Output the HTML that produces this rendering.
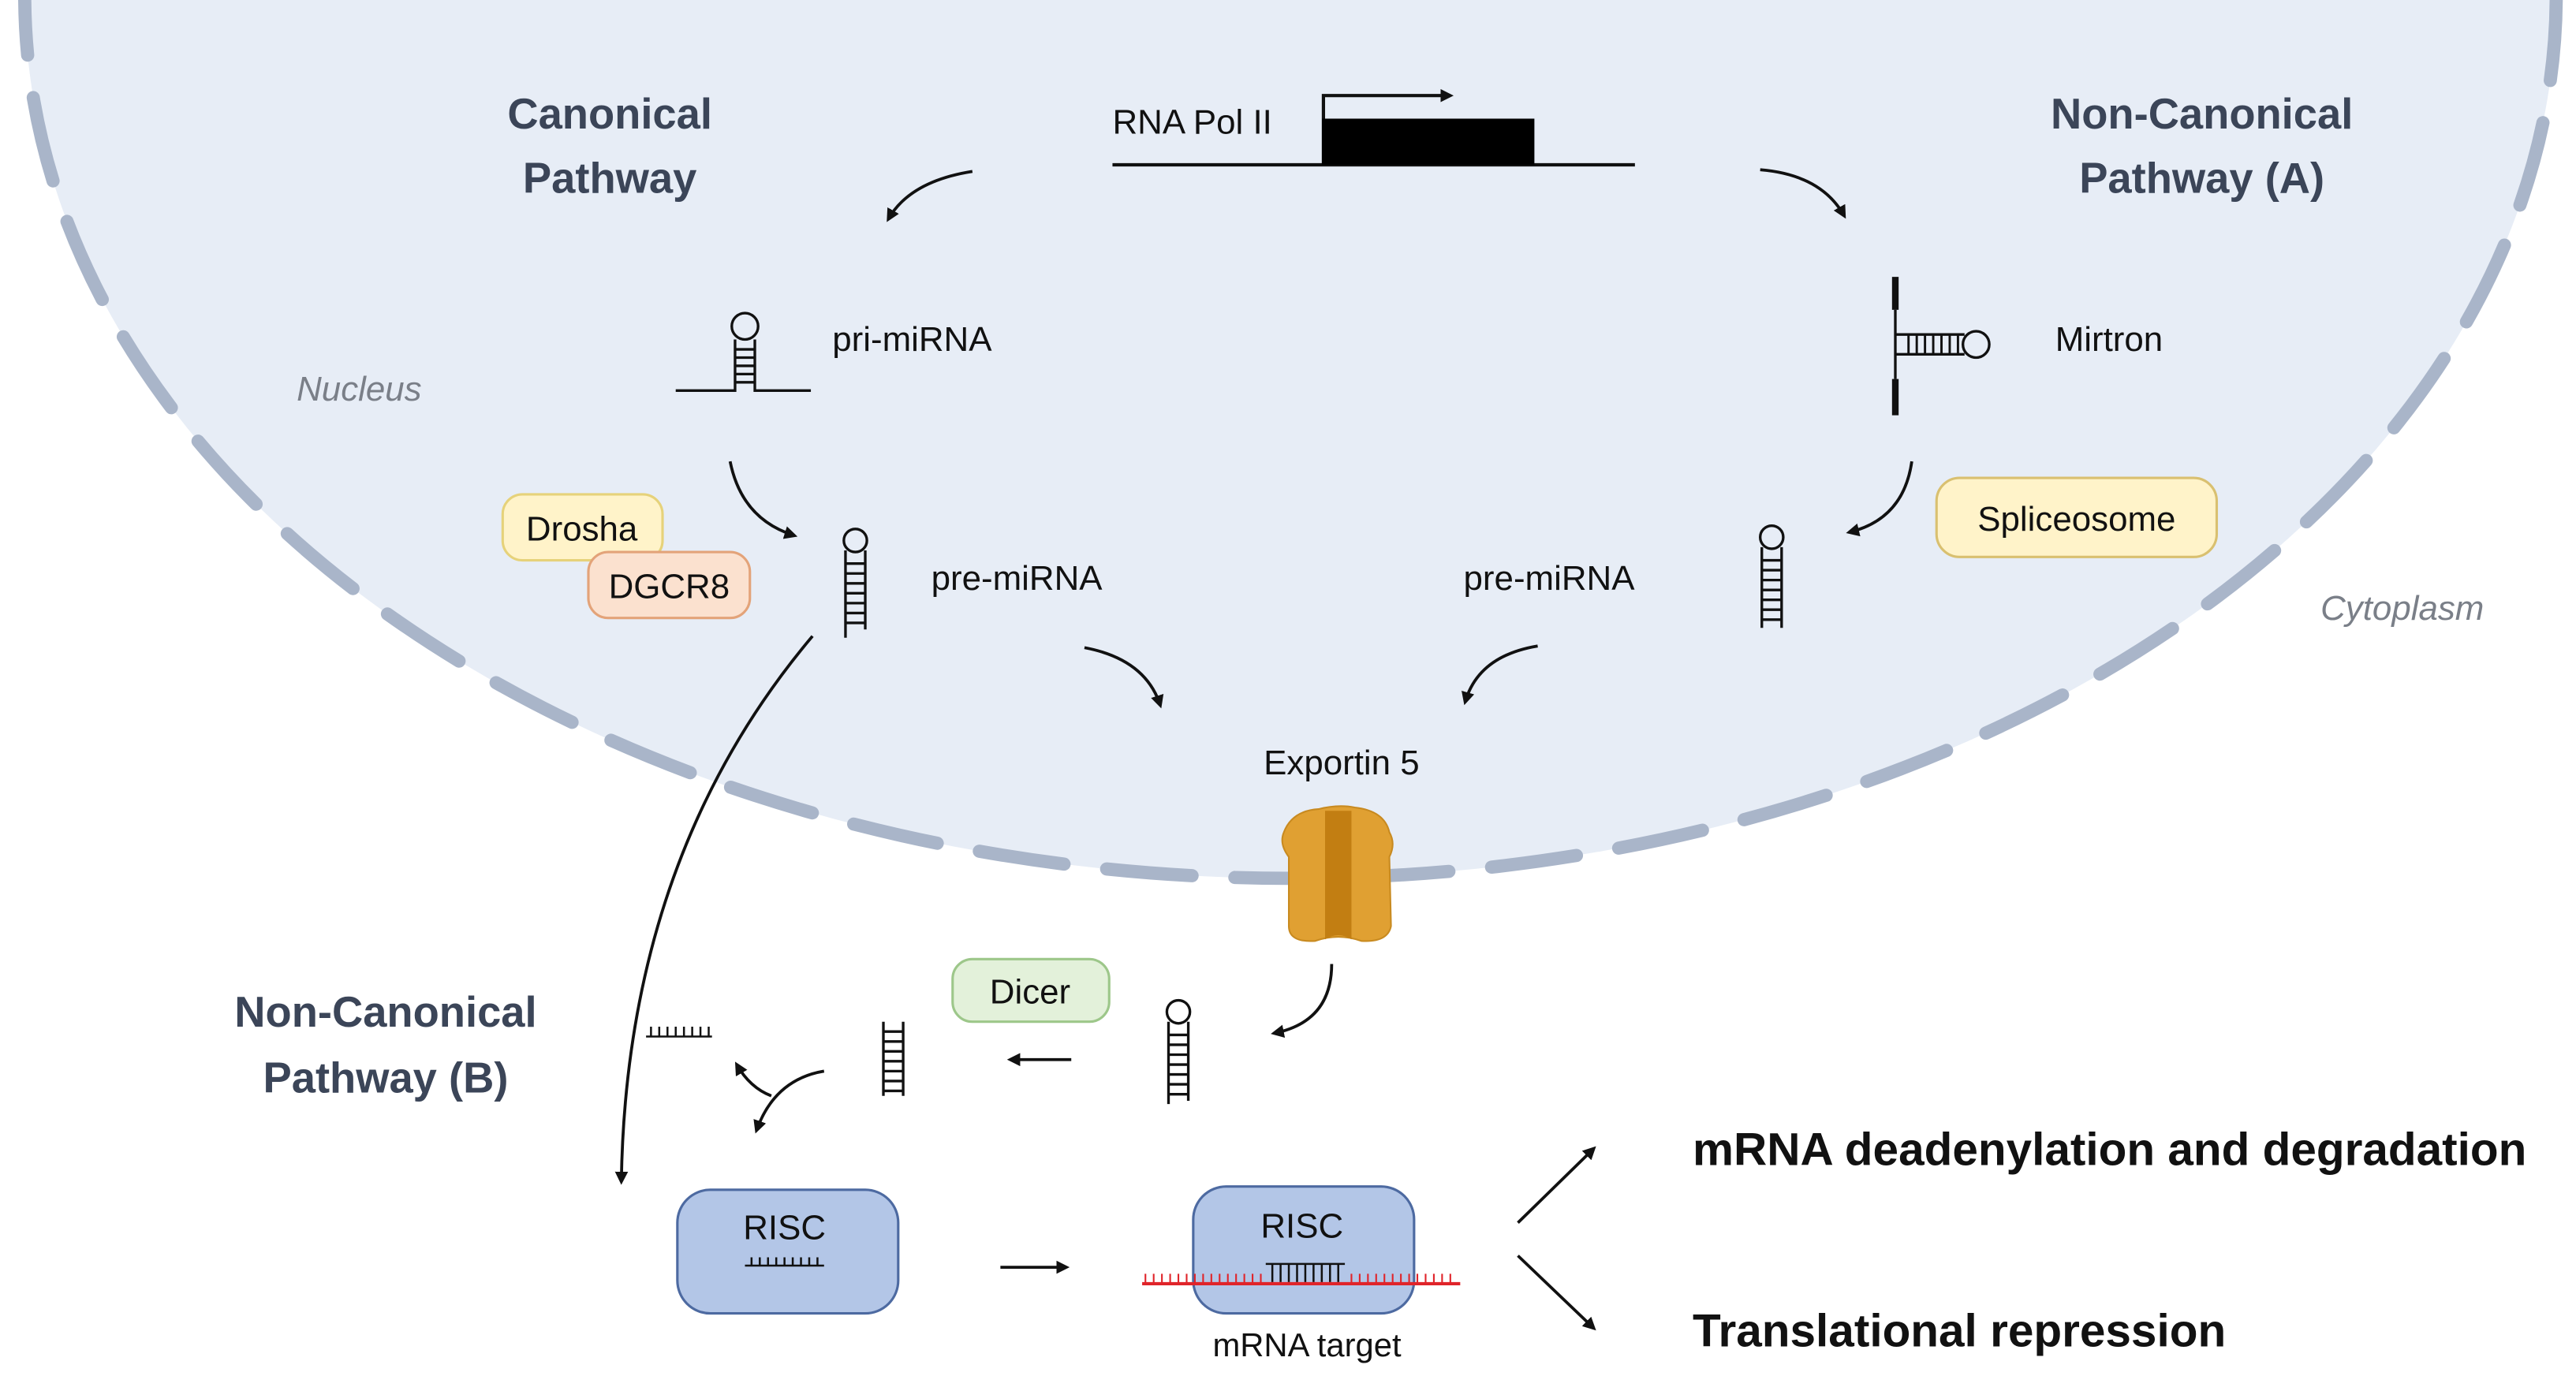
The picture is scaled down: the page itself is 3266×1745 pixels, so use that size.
<!DOCTYPE html>
<html><head><meta charset="utf-8"><style>
html,body{margin:0;padding:0;background:#fff;}
svg{display:block;}
text{font-family:"Liberation Sans",sans-serif;}
</style></head><body>
<svg width="3266" height="1745" viewBox="0 0 1563 835" preserveAspectRatio="none" xmlns="http://www.w3.org/2000/svg">
<defs>
<marker id="ah" markerWidth="8" markerHeight="8" refX="6" refY="4" orient="auto" markerUnits="userSpaceOnUse"><path d="M0,0 L8,4 L0,8 Z" fill="#111"/></marker>
</defs>
<rect width="1563" height="835" fill="#fff"/>
<ellipse cx="783" cy="-3" rx="768" ry="536" fill="#e7edf6" stroke="#a9b5c9" stroke-width="8" stroke-dasharray="52 26" stroke-linecap="round"/>

<!-- titles -->
<g fill="#3b4558" font-size="26" font-weight="bold" text-anchor="middle">
<text x="370" y="78">Canonical</text><text x="370" y="117">Pathway</text>
<text x="1336" y="78">Non-Canonical</text><text x="1336" y="117">Pathway (A)</text>
<text x="234" y="623">Non-Canonical</text><text x="234" y="663">Pathway (B)</text>
</g>
<g fill="#7a7f88" font-size="21" font-style="italic">
<text x="180" y="243">Nucleus</text><text x="1408" y="376">Cytoplasm</text>
</g>

<!-- gene -->
<text x="675" y="81" font-size="21" fill="#111">RNA Pol II</text>
<line x1="675" y1="100" x2="992" y2="100" stroke="#111" stroke-width="2"/>
<rect x="802" y="72" width="129" height="28" fill="#000"/>
<path d="M803,72 V58 H880" stroke="#111" stroke-width="2" fill="none" marker-end="url(#ah)"/>

<g stroke="#111" stroke-width="1.8" fill="none" marker-end="url(#ah)">
<path d="M590,104 Q552,110 539,133"/>
<path d="M1068,103 Q1105,106 1119,131"/>
<path d="M443,280 Q450,315 482,325"/>
<path d="M1160,280 Q1155,315 1122,323"/>
<path d="M658,393 Q695,400 704,428"/>
<path d="M933,392 Q897,398 889,426"/>
<path d="M493,386 Q380,520 377,717"/>
<path d="M808,585 Q808,620 773,627"/>
<path d="M650,643 L613,643"/>
<path d="M500,650 Q470,655 459,686"/>
<path d="M468,665 Q455,660 447,646"/>
<path d="M607,769 L647,769"/>
<path d="M921,742 L967,697"/>
<path d="M921,762 L967,806"/>
</g>

<!-- pri-miRNA -->
<g stroke="#111" stroke-width="1.6" fill="none">
<path d="M410,237 H446 V206 M458,206 V237 H492"/>
<circle cx="452" cy="198" r="8"/>
<path d="M446,212H458M446,217H458M446,222H458M446,227H458M446,232H458"/>
</g>
<text x="505" y="213" font-size="21" fill="#111">pri-miRNA</text>
<text x="565" y="358" font-size="21" fill="#111">pre-miRNA</text>
<text x="888" y="358" font-size="21" fill="#111">pre-miRNA</text>

<!-- mirtron -->
<g stroke="#111" fill="none">
<path d="M1150,168 V188 M1150,230 V252" stroke-width="4"/>
<path d="M1150,188 V230" stroke-width="1.6"/>
<path d="M1150,203 H1192 M1150,215 H1192" stroke-width="1.6"/>
<circle cx="1199" cy="209" r="8" stroke-width="1.6"/>
<path d="M1158,203V215M1163,203V215M1168,203V215M1173,203V215M1178,203V215M1183,203V215M1188,203V215" stroke-width="1.4"/>
</g>
<text x="1247" y="213" font-size="21" fill="#111">Mirtron</text>

<!-- boxes -->
<rect x="305" y="300" width="97" height="40" rx="12" fill="#fff3c9" stroke="#e6d27a" stroke-width="1.5"/>
<text x="353" y="328" font-size="21" text-anchor="middle" fill="#111">Drosha</text>
<rect x="357" y="335" width="98" height="40" rx="12" fill="#fbe1cf" stroke="#e3a379" stroke-width="1.5"/>
<text x="406" y="363" font-size="21" text-anchor="middle" fill="#111">DGCR8</text>
<rect x="1175" y="290" width="170" height="48" rx="14" fill="#fff3c9" stroke="#d9c070" stroke-width="1.5"/>
<text x="1260" y="322" font-size="21" text-anchor="middle" fill="#111">Spliceosome</text>
<rect x="578" y="582" width="95" height="38" rx="12" fill="#e3f1da" stroke="#9dc78a" stroke-width="1.5"/>
<text x="625" y="609" font-size="21" text-anchor="middle" fill="#111">Dicer</text>

<!-- hairpins -->
<g stroke="#111" stroke-width="1.6" fill="none">
<g transform="translate(519,0)"><circle cx="0" cy="328" r="7"/><path d="M-6,334V387M6,334V382M-6,342H6M-6,348H6M-6,354H6M-6,360H6M-6,366H6M-6,372H6M-6,378H6"/></g>
<g transform="translate(1075,0)"><circle cx="0" cy="326" r="7"/><path d="M-6,332V381M6,332V381M-6,340H6M-6,346H6M-6,352H6M-6,358H6M-6,364H6M-6,370H6M-6,376H6"/></g>
<g transform="translate(715,0)"><circle cx="0" cy="614" r="7"/><path d="M-6,620V670M6,620V668M-6,628H6M-6,634H6M-6,640H6M-6,646H6M-6,652H6M-6,658H6M-6,664H6"/></g>
<path d="M536,620V665M548,620V665M536,626H548M536,632H548M536,638H548M536,644H548M536,650H548M536,656H548M536,662H548"/>
<path d="M392,629H432M395,623V629M400,623V629M405,623V629M410,623V629M415,623V629M420,623V629M425,623V629M430,623V629" stroke-width="1.2"/>
</g>

<!-- exportin -->
<g>
<path d="M779,505 Q784,492 800,491 Q812,488 822,490 Q840,492 843,505 Q847,512 843,520 L844,562 Q842,572 826,571 Q812,566 798,571 Q782,572 782,562 L782,520 Q776,512 779,505 Z" fill="#e0a032" stroke="#c88a20" stroke-width="1"/>
<path d="M804,492 L820,492 L820,570 Q812,565 804,570 Z" fill="#c27e12"/>
</g>
<text x="814" y="470" font-size="21" text-anchor="middle" fill="#111">Exportin 5</text>

<!-- RISC -->
<rect x="411" y="722" width="134" height="75" rx="20" fill="#b3c6e7" stroke="#4d6aa1" stroke-width="1.5"/>
<text x="476" y="752" font-size="21" text-anchor="middle" fill="#111">RISC</text>
<path d="M452,768H500M456,768V763M461,768V763M466,768V763M471,768V763M476,768V763M481,768V763M486,768V763M491,768V763M496,768V763" stroke="#111" stroke-width="1.2"/>
<rect x="724" y="720" width="134" height="77" rx="20" fill="#b3c6e7" stroke="#4d6aa1" stroke-width="1.5"/>
<text x="790" y="751" font-size="21" text-anchor="middle" fill="#111">RISC</text>
<path d="M768,767H816M772,767V778M777,767V778M782,767V778M787,767V778M792,767V778M797,767V778M802,767V778M807,767V778M812,767V778" stroke="#111" stroke-width="1.2"/>
<line x1="693" y1="779" x2="886" y2="779" stroke="#e0242a" stroke-width="2"/>
<path d="M695,773V779M700,773V779M705,773V779M710,773V779M715,773V779M720,773V779M725,773V779M730,773V779M735,773V779M740,773V779M745,773V779M750,773V779M755,773V779M760,773V779M765,773V779M820,773V779M825,773V779M830,773V779M835,773V779M840,773V779M845,773V779M850,773V779M855,773V779M860,773V779M865,773V779M870,773V779M875,773V779M880,773V779" stroke="#e0242a" stroke-width="1"/>
<text x="793" y="823" font-size="20" text-anchor="middle" fill="#111">mRNA target</text>

<g font-size="28" font-weight="bold" fill="#111">
<text x="1027" y="707">mRNA deadenylation and degradation</text>
<text x="1027" y="817">Translational repression</text>
</g>
</svg>
</body></html>
